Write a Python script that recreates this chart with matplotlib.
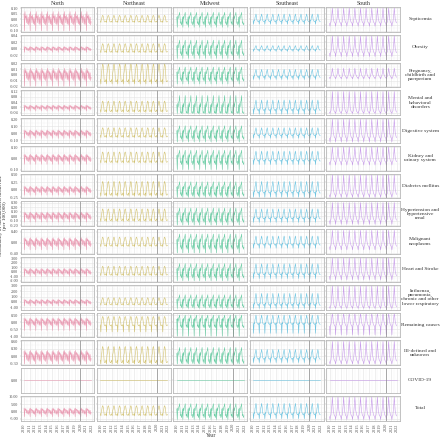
import matplotlib
matplotlib.use("Agg")
import matplotlib.pyplot as plt
import numpy as np
from matplotlib.ticker import FormatStrFormatter, MultipleLocator, AutoMinorLocator

plt.rcParams["font.family"] = ["Liberation Serif", "DejaVu Serif"]

regions = ["North", "Northeast", "Midwest", "Southeast", "South"]
colors = ["#E67F9E", "#C4AE3E", "#3DBF8A", "#3FB4DA", "#B87DE6"]
years = list(range(2010, 2022))
vline_year = 2020

causes = ["Septicemia", "Obesity", "Pregnancy,\nchildbirth and\npuerperium",
          "Mental and\nbehavioral\ndisorders", "Digestive system",
          "Kidney and\nurinary system", "Diabetes mellitus",
          "Hypertension and\nhypertensive\nrenal", "Malignant\nneoplasms",
          "Heart and Stroke",
          "Influenza,\npneumonia,\nchronic and other\nlower respiratory",
          "Remaining causes", "Ill-defined and\nunknown", "COVID-19", "Total"]

# monthly seasonal profile (Jan..Dec) per region: North, Northeast, Midwest, Southeast, South
septicemia = [
    [0.05, -0.10, 0.07, 0.01, 0.03, -0.03, 0.04, 0.0, -0.04, 0.02, -0.05, -0.02],
    [-0.014, -0.027, 0.005, 0.014, 0.032, 0.036, 0.027, 0.009, -0.018, -0.022, -0.022, -0.018],
    [0.021, -0.07, 0.028, 0.007, 0.035, 0.042, 0.063, 0.014, -0.035, -0.021, -0.049, -0.035],
    [-0.012, -0.042, -0.006, -0.012, 0.018, 0.03, 0.048, 0.03, -0.006, -0.012, -0.018, -0.018],
    [-0.035, -0.06, -0.03, -0.025, 0.01, 0.045, 0.1, 0.055, 0.005, -0.01, -0.025, -0.03]]
obesity = [
    [0.006, -0.011, 0.007, 0.002, 0.005, -0.004, 0.004, 0.001, -0.005, 0.002, -0.006, -0.002],
    [-0.006, -0.012, 0.002, 0.006, 0.014, 0.016, 0.012, 0.004, -0.008, -0.01, -0.01, -0.008],
    [0.009, -0.03, 0.012, 0.003, 0.015, 0.018, 0.027, 0.006, -0.015, -0.009, -0.021, -0.015],
    [-0.002, -0.008, -0.001, -0.002, 0.004, 0.006, 0.01, 0.006, -0.001, -0.002, -0.004, -0.004],
    [-0.014, -0.024, -0.012, -0.01, 0.004, 0.018, 0.04, 0.022, 0.002, -0.004, -0.01, -0.012]]
pregnancy = [
    [0.008, -0.02, 0.012, 0.004, 0.008, -0.006, 0.006, 0.002, -0.008, 0.004, -0.01, -0.004],
    [-0.008, -0.016, 0.002, 0.008, 0.016, 0.02, 0.016, 0.006, -0.01, -0.012, -0.012, -0.01],
    [0.005, -0.016, 0.006, 0.002, 0.008, 0.01, 0.014, 0.003, -0.008, -0.005, -0.011, -0.008],
    [-0.002, -0.008, -0.001, -0.002, 0.004, 0.006, 0.01, 0.006, -0.001, -0.002, -0.004, -0.004],
    [-0.004, -0.007, -0.004, -0.003, 0.001, 0.005, 0.012, 0.007, 0.001, -0.001, -0.003, -0.004]]
mental = [
    [0.015, -0.027, 0.018, 0.006, 0.012, -0.009, 0.009, 0.003, -0.012, 0.006, -0.015, -0.006],
    [-0.018, -0.036, 0.006, 0.018, 0.042, 0.048, 0.036, 0.012, -0.024, -0.03, -0.03, -0.024],
    [0.02, -0.045, 0.03, 0.005, 0.04, 0.05, 0.09, 0.015, -0.04, -0.03, -0.045, -0.04],
    [-0.014, -0.049, -0.007, -0.014, 0.021, 0.035, 0.056, 0.035, -0.007, -0.014, -0.021, -0.021],
    [-0.035, -0.045, -0.03, -0.025, 0.01, 0.05, 0.12, 0.06, 0.0, -0.015, -0.03, -0.035]]
digestive = [
    [0.04, -0.072, 0.048, 0.016, 0.032, -0.024, 0.024, 0.008, -0.032, 0.016, -0.04, -0.016],
    [-0.03, -0.06, 0.01, 0.03, 0.07, 0.08, 0.06, 0.02, -0.04, -0.05, -0.05, -0.04],
    [0.036, -0.12, 0.048, 0.012, 0.06, 0.072, 0.108, 0.024, -0.06, -0.036, -0.084, -0.06],
    [-0.02, -0.07, -0.01, -0.02, 0.03, 0.05, 0.08, 0.05, -0.01, -0.02, -0.03, -0.03],
    [-0.07, -0.12, -0.06, -0.05, 0.02, 0.09, 0.2, 0.11, 0.01, -0.02, -0.05, -0.06]]
kidney = [
    [0.03, -0.054, 0.036, 0.012, 0.024, -0.018, 0.018, 0.006, -0.024, 0.012, -0.03, -0.012],
    [-0.021, -0.042, 0.007, 0.021, 0.049, 0.056, 0.042, 0.014, -0.028, -0.035, -0.035, -0.028],
    [0.024, -0.1, 0.032, 0.008, 0.04, 0.048, 0.072, 0.016, -0.04, -0.024, -0.056, -0.04],
    [-0.016, -0.056, -0.008, -0.016, 0.024, 0.04, 0.064, 0.04, -0.008, -0.016, -0.024, -0.024],
    [-0.035, -0.06, -0.03, -0.025, 0.01, 0.045, 0.1, 0.055, 0.005, -0.01, -0.025, -0.03]]
diabetes = [
    [0.1, -0.18, 0.12, 0.04, 0.08, -0.06, 0.06, 0.02, -0.08, 0.04, -0.1, -0.04],
    [-0.105, -0.21, 0.035, 0.105, 0.245, 0.28, 0.21, 0.07, -0.14, -0.175, -0.175, -0.14],
    [0.09, -0.25, 0.12, 0.03, 0.15, 0.18, 0.27, 0.06, -0.15, -0.09, -0.21, -0.15],
    [-0.07, -0.245, -0.035, -0.07, 0.105, 0.175, 0.28, 0.175, -0.035, -0.07, -0.105, -0.105],
    [-0.175, -0.25, -0.15, -0.125, 0.05, 0.225, 0.5, 0.275, 0.025, -0.05, -0.125, -0.15]]
hypertension = [
    [0.075, -0.135, 0.09, 0.03, 0.06, -0.045, 0.045, 0.015, -0.06, 0.03, -0.075, -0.03],
    [-0.06, -0.12, 0.02, 0.06, 0.14, 0.16, 0.12, 0.04, -0.08, -0.1, -0.1, -0.08],
    [0.06, -0.2, 0.08, 0.02, 0.1, 0.12, 0.18, 0.04, -0.1, -0.06, -0.14, -0.1],
    [-0.04, -0.14, -0.02, -0.04, 0.06, 0.1, 0.16, 0.1, -0.02, -0.04, -0.06, -0.06],
    [-0.105, -0.18, -0.09, -0.075, 0.03, 0.135, 0.3, 0.165, 0.015, -0.03, -0.075, -0.09]]
malignant = [
    [0.15, -0.27, 0.18, 0.06, 0.12, -0.09, 0.09, 0.03, -0.12, 0.06, -0.15, -0.06],
    [-0.075, -0.15, 0.025, 0.075, 0.175, 0.2, 0.15, 0.05, -0.1, -0.125, -0.125, -0.1],
    [0.105, -0.38, 0.14, 0.035, 0.175, 0.21, 0.315, 0.07, -0.175, -0.105, -0.245, -0.175],
    [-0.06, -0.21, -0.03, -0.06, 0.09, 0.15, 0.24, 0.15, -0.03, -0.06, -0.09, -0.09],
    [-0.16, -0.27, -0.135, -0.11, 0.045, 0.2, 0.45, 0.25, 0.02, -0.045, -0.11, -0.135]]
heart = [
    [0.6, -1.08, 0.72, 0.24, 0.48, -0.36, 0.36, 0.12, -0.48, 0.24, -0.6, -0.24],
    [-0.45, -0.9, 0.15, 0.45, 1.05, 1.2, 0.9, 0.3, -0.6, -0.75, -0.75, -0.6],
    [0.6, -2.0, 0.8, 0.2, 1.0, 1.2, 1.8, 0.4, -1.0, -0.6, -1.4, -1.0],
    [-0.44, -1.54, -0.22, -0.44, 0.66, 1.1, 1.76, 1.1, -0.22, -0.44, -0.66, -0.66],
    [-1.05, -1.8, -0.9, -0.75, 0.3, 1.35, 3.0, 1.65, 0.15, -0.3, -0.75, -0.9]]
influenza = [
    [0.4, -0.72, 0.48, 0.16, 0.32, -0.24, 0.24, 0.08, -0.32, 0.16, -0.4, -0.16],
    [-0.3, -0.6, 0.1, 0.3, 0.7, 0.8, 0.6, 0.2, -0.4, -0.5, -0.5, -0.4],
    [0.45, -1.2, 0.6, 0.15, 0.75, 0.9, 1.35, 0.3, -0.75, -0.45, -1.05, -0.75],
    [-0.4, -1.2, -0.2, -0.4, 0.6, 1.0, 1.6, 1.0, -0.2, -0.4, -0.6, -0.6],
    [-0.9, -1.2, -0.8, -0.6, 0.3, 1.35, 3.0, 1.65, 0.15, -0.3, -0.75, -0.9]]
remaining = [
    [0.25, -0.6, 0.3, 0.1, 0.2, -0.15, 0.15, 0.05, -0.2, 0.1, -0.25, -0.1],
    [-0.2, -0.7, 0.05, 0.15, 0.35, 0.4, 0.3, 0.1, -0.2, -0.25, -0.25, -0.2],
    [0.2, -1.0, 0.25, 0.05, 0.3, 0.35, 0.5, 0.1, -0.3, -0.2, -0.4, -0.3],
    [-0.1, -0.8, -0.05, -0.1, 0.2, 0.3, 0.5, 0.3, -0.05, -0.1, -0.15, -0.15],
    [-0.3, -0.9, -0.2, -0.2, 0.1, 0.35, 0.6, 0.4, 0.05, -0.1, -0.2, -0.25]]
ill_defined = [
    [0.2, -0.3, 0.24, 0.08, 0.16, -0.12, 0.12, 0.04, -0.16, 0.08, -0.2, -0.08],
    [-0.15, -0.3, 0.05, 0.15, 0.35, 0.4, 0.3, 0.1, -0.2, -0.25, -0.25, -0.2],
    [0.12, -0.3, 0.16, 0.04, 0.2, 0.24, 0.36, 0.08, -0.2, -0.12, -0.28, -0.2],
    [-0.07, -0.245, -0.035, -0.07, 0.105, 0.175, 0.28, 0.175, -0.035, -0.07, -0.105, -0.105],
    [-0.21, -0.3, -0.18, -0.15, 0.06, 0.27, 0.6, 0.33, 0.03, -0.06, -0.15, -0.18]]
covid = [[0.0] * 12 for _ in regions]
total = [
    [2.0, -3.6, 2.4, 0.8, 1.6, -1.2, 1.2, 0.4, -1.6, 0.8, -2.0, -0.8],
    [-1.5, -3.0, 0.5, 1.5, 3.5, 4.0, 3.0, 1.0, -2.0, -2.5, -2.5, -2.0],
    [1.8, -5.5, 2.4, 0.6, 3.0, 3.6, 5.4, 1.2, -3.0, -1.8, -4.2, -3.0],
    [-1.4, -4.9, -0.7, -1.4, 2.1, 3.5, 5.6, 3.5, -0.7, -1.4, -2.1, -2.1],
    [-3.5, -5.5, -3.0, -2.5, 1.0, 4.5, 10.0, 5.5, 0.5, -1.0, -2.5, -3.0]]

rows = [septicemia, obesity, pregnancy, mental, digestive, kidney, diabetes,
        hypertension, malignant, heart, influenza, remaining, ill_defined, covid, total]
tick_steps = [0.05, 0.02, 0.01, 0.04, 0.1, 0.1, 0.25, 0.1, 0.4, 1.0, 1.0, 0.5, 0.3, 1.0, 5.0]

t = np.array([y + m / 12 for y in years for m in range(12)])

fig, axes = plt.subplots(len(rows), len(regions), figsize=(4.4, 4.4), dpi=100,
                         sharex=True, sharey="row")
fig.subplots_adjust(left=0.047, right=0.909, top=0.984, bottom=0.044,
                    wspace=0.035, hspace=0.12)

for i, profiles in enumerate(rows):
    for j, prof in enumerate(profiles):
        ax = axes[i, j]
        vals = np.tile(prof, len(years))
        ax.plot(t, vals, color=colors[j], lw=0.4, alpha=0.75)
        ax.axvline(vline_year, color="#8a8a8a", lw=0.5)
        ax.xaxis.set_major_locator(MultipleLocator(1))
        ax.xaxis.set_minor_locator(AutoMinorLocator(2))
        ax.yaxis.set_major_locator(MultipleLocator(tick_steps[i]))
        ax.yaxis.set_minor_locator(AutoMinorLocator(2))
        ax.yaxis.set_major_formatter(FormatStrFormatter("%.2f"))
        ax.xaxis.set_major_formatter(FormatStrFormatter("%d"))
        ax.grid(which="major", color="#E3E3E3", lw=0.4)
        ax.grid(which="minor", color="#F0F0F0", lw=0.25)
        ax.set_axisbelow(True)
        for s in ax.spines.values():
            s.set_color("#B8B8B8")
            s.set_linewidth(0.6)
        ax.tick_params(which="both", length=1.0, width=0.3, color="#AAAAAA",
                       pad=0.8, labelsize=3.1, labelcolor="#4D4D4D")
        ax.tick_params(which="minor", length=0)
        ax.tick_params(axis="x", labelrotation=90)
        if i == 0:
            ax.set_title(regions[j], fontsize=4.2, pad=1.5, color="#333333")
    pos = axes[i, -1].get_position()
    fig.text(0.955, (pos.y0 + pos.y1) / 2, causes[i], ha="center", va="center",
             fontsize=3.9, color="#333333", linespacing=1.1)

fig.text(0.007, 0.51, "Seasonality of standardized death rate\n(per 100,000)",
         rotation=90, ha="center", va="center", fontsize=3.8, color="#333333",
         linespacing=1.1)
fig.text(0.48, 0.004, "Year", ha="center", va="bottom", fontsize=4.0, color="#333333")

plt.savefig("out.png", dpi=100)
